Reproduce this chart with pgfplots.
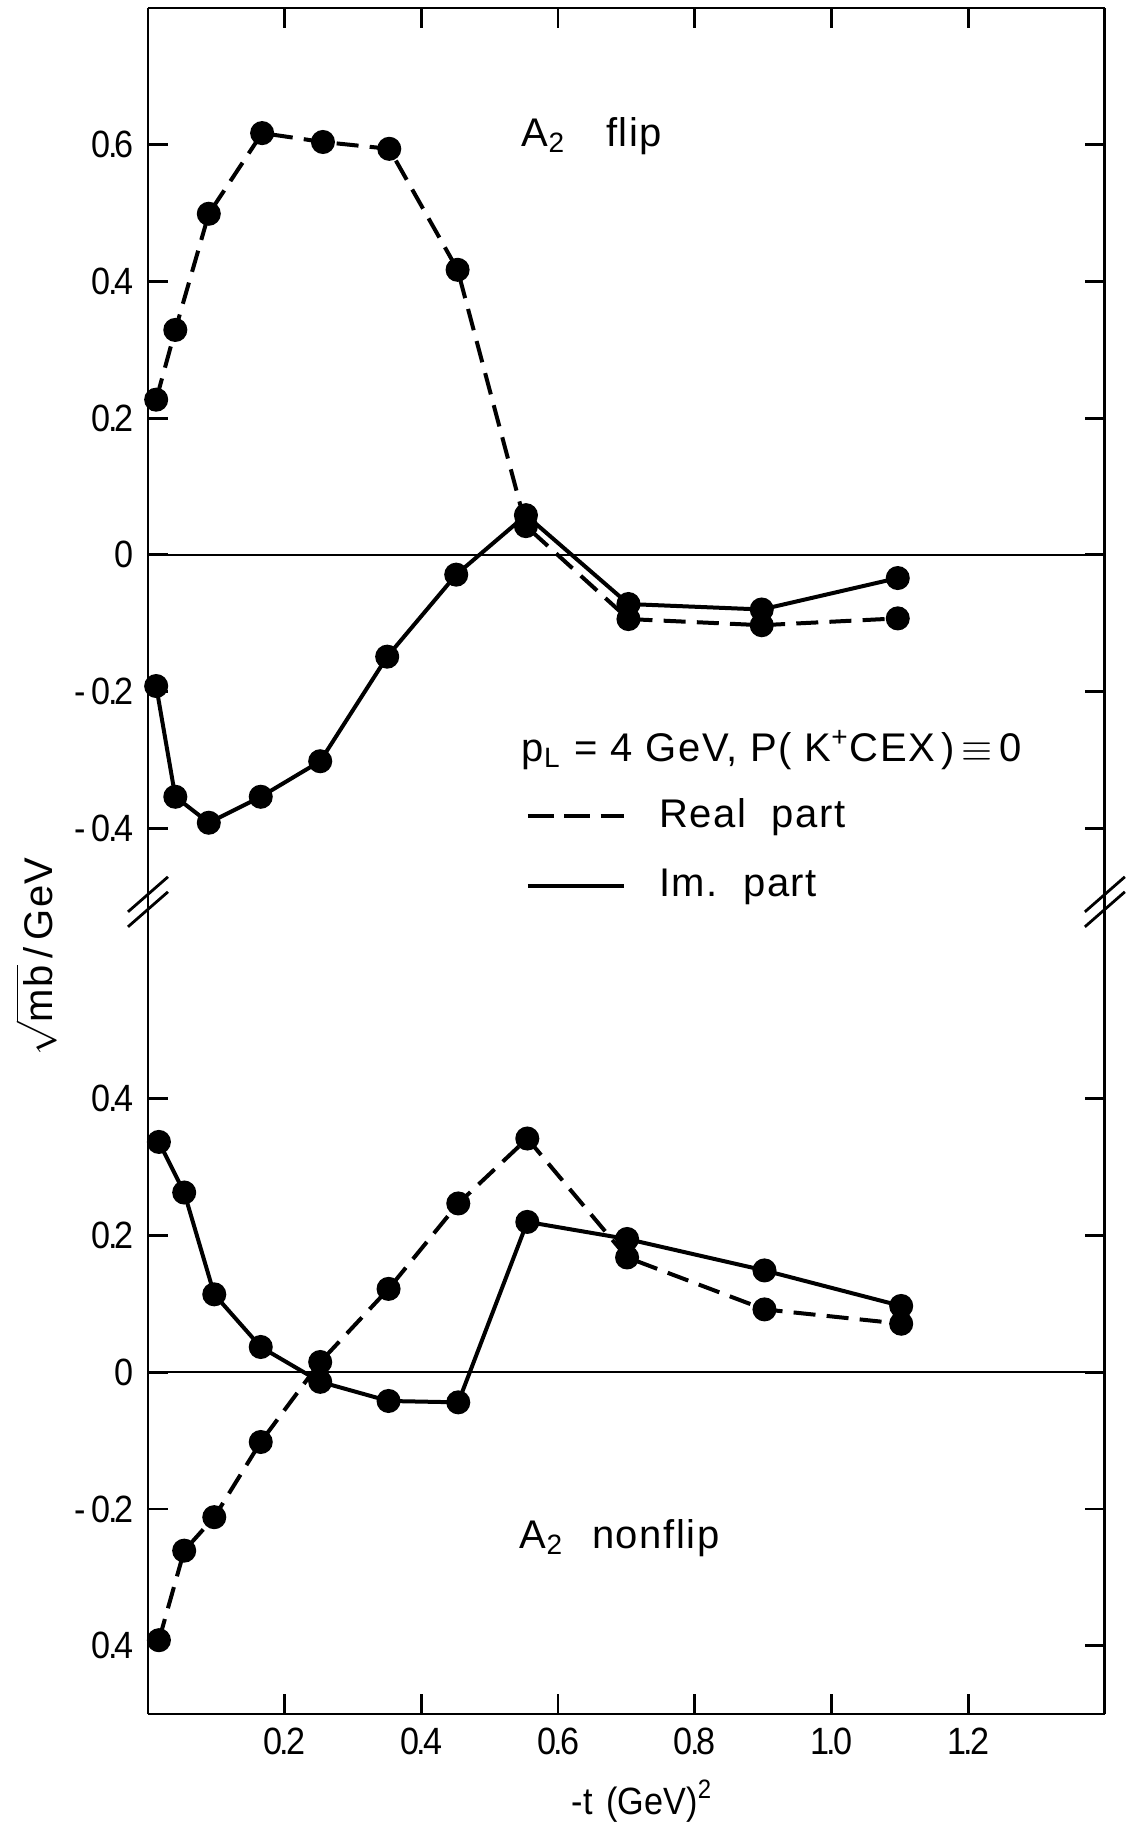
\documentclass[border=0pt]{standalone}
\usepackage{fontspec}
\setmainfont[LetterSpace=4]{Liberation Sans}
\newfontfamily\tickfont[FakeStretch=0.9]{Liberation Sans}
\usepackage{pgfplots}
\pgfplotsset{compat=1.18}

\newcommand{\lbl}{\fontsize{10}{12}\selectfont}
\newcommand{\tkf}{\tickfont\fontsize{9.5}{11}\selectfont}
\newcommand{\dd}{\kern-0.7pt.\kern-0.7pt}

\pgfplotsset{
  brk/.style={
    x=170.9pt, y=170.9pt,
    xmin=0, xmax=1.4,
    separate axis lines,
    axis line style={line width=0.7pt, -},
    tick align=inside,
    major tick length=5pt,
    tick style={line width=0.7pt, black},
    xtick={0.2,0.4,0.6,0.8,1.0,1.2},
    ytick pos=both, yticklabel pos=left,
    ticklabel style={font=\tkf},
    clip=false,
  },
  re/.style={line width=1.0pt, dash pattern=on 5.5pt off 2.8pt, mark=*, mark size=2.5pt, mark options={solid, fill=black}, forget plot},
  im/.style={line width=1.0pt, solid, mark=*, mark size=2.5pt, mark options={solid, fill=black}, forget plot},
  zl/.style={line width=0.45pt, no markers, forget plot},
}

\begin{document}
\begin{tikzpicture}
\useasboundingbox (-37pt,225.54pt) rectangle (245.76pt,-230.78pt);
% ---------------- upper panel: A2 flip ----------------
\begin{axis}[brk, name=up,
  ymin=-0.508, ymax=0.8,
  axis x line*=top, axis y line*=box,
  xtick pos=right, xticklabels={},
  ytick={-0.4,-0.2,0,0.2,0.4,0.6},
  yticklabels={-\,0\dd4,-\,0\dd2,0,0\dd2,0\dd4,0\dd6},
  legend style={draw=none, fill=none, inner sep=0pt, outer sep=0pt,
    at={(0.395,0.0577)}, anchor=west, font=\lbl, row sep=5pt,
    /tikz/every odd column/.append style={column sep=6.3pt}},
  legend cell align=left,
  legend image code/.code={\draw[#1] (0pt,0pt) -- (24pt,0pt);},
]
\addplot[zl] coordinates {(0,0) (1.4,0)};
\addplot[re] coordinates {
 (0.012,0.227) (0.040,0.329) (0.089,0.499) (0.167,0.617) (0.256,0.604)
 (0.353,0.594) (0.453,0.417) (0.553,0.042) (0.703,-0.094) (0.898,-0.103) (1.097,-0.093)};
\addplot[im] coordinates {
 (0.012,-0.192) (0.040,-0.354) (0.089,-0.392) (0.165,-0.354) (0.252,-0.302)
 (0.350,-0.149) (0.451,-0.029) (0.553,0.058) (0.703,-0.072) (0.898,-0.080) (1.097,-0.034)};
\addlegendimage{line width=1.0pt, dash pattern=on 6.5pt off 2.6pt}
\addlegendentry{Real\ \ part}
\addlegendimage{line width=1.0pt, solid}
\addlegendentry{Im.\ \ part}
\node[anchor=west, inner sep=0pt, font=\lbl] at (axis cs:0.546,0.613) {A\textsubscript{2}\hspace{10pt}flip};
\node[anchor=west, inner sep=0pt, font=\lbl] at (axis cs:0.546,-0.286)
  {p\textsubscript{L}\ =\ 4\ GeV,\ P(\ K\textsuperscript{+}CEX\,)\,$\equiv$\,0};
\end{axis}
% ---------------- lower panel: A2 nonflip ----------------
\begin{axis}[brk, name=low, at={(up.south west)}, anchor=north west,
  ymin=-0.5, ymax=0.688,
  axis x line*=bottom, axis y line*=box,
  xtick pos=left, xticklabel pos=left,
  xticklabels={0\dd2,0\dd4,0\dd6,0\dd8,1\dd0,1\dd2},
  ytick={-0.4,-0.2,0,0.2,0.4},
  yticklabels={0\dd4,-\,0\dd2,0,0\dd2,0\dd4},
  xlabel={-t\hspace{3.5pt}(GeV)\textsuperscript{2}},
  xlabel style={at={(axis description cs:0.5,0)}, anchor=center, inner sep=0pt,
    yshift=-21.75pt, xshift=4pt, font=\tkf},
  ylabel={$\sqrt{\mbox{mb}}$\,/\,GeV},
  ylabel style={at={(axis description cs:-0.117,0.933)}, anchor=center,
    inner sep=0pt, font=\lbl},
]
\addplot[zl] coordinates {(0,0) (1.4,0)};
\addplot[re] coordinates {
 (0.016,-0.392) (0.053,-0.261) (0.097,-0.212) (0.165,-0.102) (0.252,0.015)
 (0.352,0.122) (0.454,0.247) (0.555,0.342) (0.701,0.168) (0.902,0.092) (1.102,0.071)};
\addplot[im] coordinates {
 (0.016,0.337) (0.053,0.263) (0.097,0.114) (0.165,0.037) (0.252,-0.014)
 (0.352,-0.042) (0.454,-0.044) (0.555,0.220) (0.701,0.195) (0.902,0.149) (1.102,0.097)};
\node[anchor=west, inner sep=0pt, font=\lbl] at (axis cs:0.543,-0.2425) {A\textsubscript{2}\hspace{7pt}nonflip};
\end{axis}
% axis break marks
\foreach \a in {up.south west, up.south east} {
  \draw[line width=0.7pt] ([shift={(-5pt,-6.2pt)}]\a) -- ++(10pt,8.75pt);
  \draw[line width=0.7pt] ([shift={(-5pt,-2.45pt)}]\a) -- ++(10pt,8.75pt);
}
\end{tikzpicture}
\end{document}
